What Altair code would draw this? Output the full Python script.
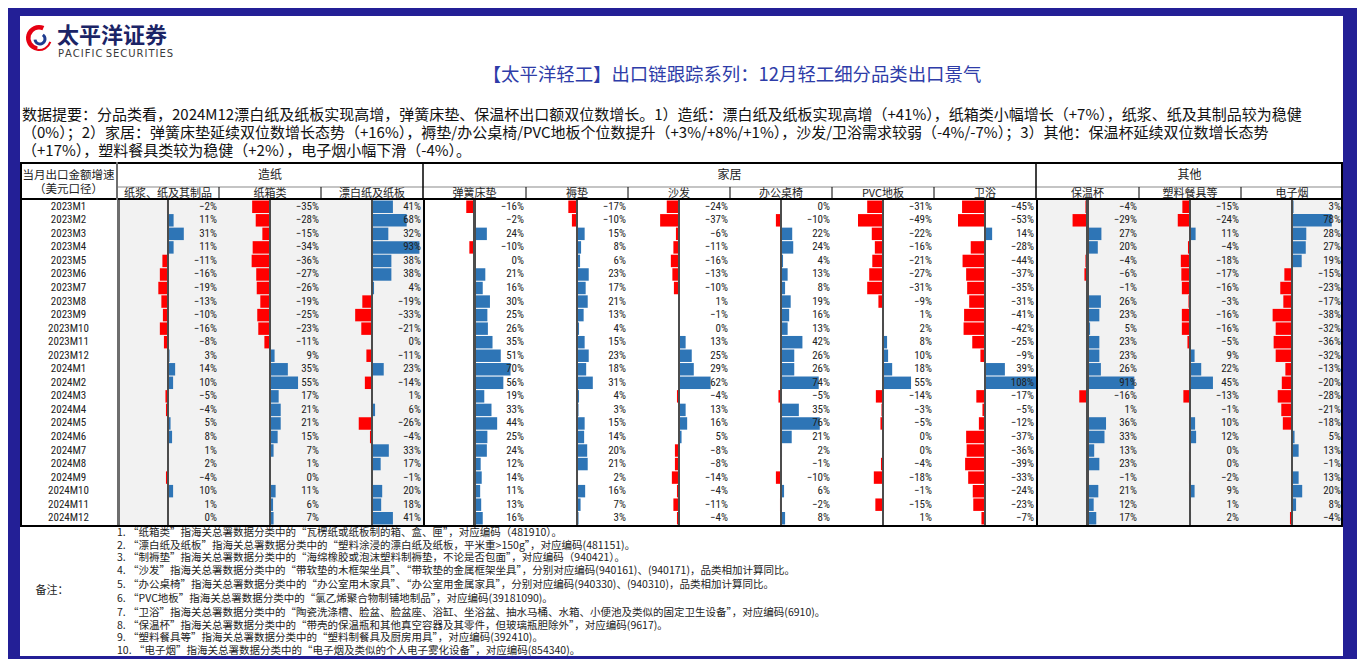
import altair as alt
import pandas as pd

# ---------------- data ----------------
months = ["2023M1", "2023M2", "2023M3", "2023M4", "2023M5", "2023M6",
          "2023M7", "2023M8", "2023M9", "2023M10", "2023M11", "2023M12",
          "2024M1", "2024M2", "2024M3", "2024M4", "2024M5", "2024M6",
          "2024M7", "2024M8", "2024M9", "2024M10", "2024M11", "2024M12"]

groups = ["造纸", "家居", "其他"]
subcols = ["纸浆、纸及其制品", "纸箱类", "漂白纸及纸板",
           "弹簧床垫", "褥垫", "沙发", "办公桌椅", "PVC地板", "卫浴",
           "保温杯", "塑料餐具等", "电子烟"]

pulp = [-2, 11, 31, 11, -11, -16, -19, -13, -10, -16, -8, 3, 14, 10, -5, -4, 5, 8, 1, 2, -4, 10, 1, 0]
carton = [-35, -28, -15, -34, -36, -27, -26, -19, -25, -23, -11, 9, 35, 55, 17, 21, 21, 15, 7, 1, 0, 11, 6, 7]
bleached = [41, 68, 32, 93, 38, 38, 4, -19, -33, -21, 0, -11, 23, -14, 1, 6, -26, -4, 33, 17, -1, 20, 18, 41]
mattress = [-16, -2, 24, -10, 0, 21, 16, 30, 25, 26, 35, 51, 70, 56, 19, 33, 44, 25, 24, 12, 14, 11, 13, 16]
pad = [-17, -10, 15, 8, 6, 23, 17, 21, 13, 4, 15, 23, 18, 31, 4, 3, 15, 14, 20, 21, 2, 16, 7, 3]
sofa = [-24, -37, -6, -11, -16, -13, -10, 1, -1, 0, 13, 25, 29, 62, -4, 13, 16, 5, -8, -8, -14, -4, -11, -4]
office = [0, -10, 22, 24, 4, 13, 8, 19, 16, 13, 42, 26, 26, 74, -5, 35, 76, 21, 2, -1, -10, 6, -2, 8]
pvc = [-31, -49, -22, -16, -21, -27, -31, -9, 1, 2, 8, 10, 18, 55, -14, -3, -5, 0, 0, -4, -18, -1, -15, 1]
bath = [-45, -53, 14, -28, -44, -37, -35, -31, -41, -42, -25, -9, 39, 108, -17, -5, -12, -37, -36, -39, -33, -24, -23, -7]
flask = [-4, -29, 27, 20, -4, -6, -1, 26, 23, 5, 23, 23, 26, 91, -16, 1, 36, 33, 13, 23, -1, 21, 12, 17]
tableware = [-15, -24, 11, -4, -18, -17, -16, -3, -16, -16, -5, 9, 22, 45, -13, -1, 10, 12, 0, 0, -2, 9, 1, 2]
ecig = [3, 78, 28, 27, 19, -15, -23, -17, -38, -32, -36, -32, -13, -20, -28, -21, -18, 5, 13, -1, 13, 20, 8, -4]

series = [pulp, carton, bleached, mattress, pad, sofa, office, pvc, bath, flask, tableware, ecig]

title_text = "【太平洋轻工】出口链跟踪系列：12月轻工细分品类出口景气"
summary_lines = [
    "数据提要：分品类看，2024M12漂白纸及纸板实现高增，弹簧床垫、保温杯出口额双位数增长。1）造纸：漂白纸及纸板实现高增（+41%），纸箱类小幅增长（+7%），纸浆、纸及其制品较为稳健",
    "（0%）；2）家居：弹簧床垫延续双位数增长态势（+16%），褥垫/办公桌椅/PVC地板个位数提升（+3%/+8%/+1%），沙发/卫浴需求较弱（-4%/-7%）；3）其他：保温杯延续双位数增长态势",
    "（+17%），塑料餐具类较为稳健（+2%），电子烟小幅下滑（-4%）。",
]
notes = [
    "1. “纸箱类”指海关总署数据分类中的“瓦楞纸或纸板制的箱、盒、匣”，对应编码（481910）。",
    "2. “漂白纸及纸板”指海关总署数据分类中的“塑料涂浸的漂白纸及纸板，平米重>150g”，对应编码(481151)。",
    "3. “制褥垫”指海关总署数据分类中的“海绵橡胶或泡沫塑料制褥垫，不论是否包面”，对应编码（940421）。",
    "4. “沙发”指海关总署数据分类中的“带软垫的木框架坐具”、“带软垫的金属框架坐具”，分别对应编码(940161)、(940171)，品类相加计算同比。",
    "5. “办公桌椅”指海关总署数据分类中的“办公室用木家具”、“办公室用金属家具”，分别对应编码(940330)、(940310)，品类相加计算同比。",
    "6. “PVC地板”指海关总署数据分类中的“氯乙烯聚合物制铺地制品”，对应编码(39181090)。",
    "7. “卫浴”指海关总署数据分类中的“陶瓷洗涤槽、脸盆、脸盆座、浴缸、坐浴盆、抽水马桶、水箱、小便池及类似的固定卫生设备”，对应编码(6910)。",
    "8. “保温杯”指海关总署数据分类中的“带壳的保温瓶和其他真空容器及其零件，但玻璃瓶胆除外”，对应编码(9617)。",
    "9. “塑料餐具等”指海关总署数据分类中的“塑料制餐具及厨房用具”，对应编码(392410)。",
    "10. “电子烟”指海关总署数据分类中的“电子烟及类似的个人电子雾化设备”，对应编码(854340)。",
]

# ---------------- style ----------------
FRAME = "#231f96"
BAR_BLUE = "#2e75b6"
BAR_RED = "#ff0000"
GREY_BG = "#f2f2f2"
FONT = "Noto Sans CJK SC"
NUMFONT = "Liberation Sans Narrow, Roboto Condensed, Noto Sans CJK SC"

LABEL_W = 97
COL_WS = [102, 102, 102, 103, 102, 102, 102, 102, 102, 103, 102, 102]
TOTAL_W = LABEL_W + sum(COL_WS)
TOP_H = 146
HEAD_H = 38
DATA_H = 325
NOTE_H = 131

one = alt.Data(values=[{}])


def txt(s, x, y, size, color="#111", align="left", weight="normal", font=FONT):
    return alt.Chart(one).mark_text(text=s, align=align, baseline="middle", fontSize=size,
                                    color=color, fontWeight=weight, font=font).encode(
        x=alt.value(x), y=alt.value(y))


def vline(x, y1, y2, color="#000", w=1.0):
    return alt.Chart(one).mark_rule(color=color, strokeWidth=w, clip=True).encode(
        x=alt.value(x), y=alt.value(y1), y2=alt.value(y2))


def hline(x1, x2, y, color="#000", w=1.0):
    return alt.Chart(one).mark_rule(color=color, strokeWidth=w, clip=True).encode(
        x=alt.value(x1), x2=alt.value(x2), y=alt.value(y))


white_view = alt.ViewBackground(fill="white", stroke="transparent")

# ---------------- top section ----------------
hs = "\u200a"
pacific = hs.join("PACIFIC") + "  " + hs.join("SECURITIES")
top_layers = [
    alt.Chart(one).mark_arc(color="#e60012", theta=3.3, theta2=6.7, radius=13, radius2=8.5).encode(
        x=alt.value(19), y=alt.value(22)),
    alt.Chart(one).mark_arc(color="#e60012", theta=1.9, theta2=3.3, radius=13, radius2=11).encode(
        x=alt.value(19), y=alt.value(22)),
    alt.Chart(one).mark_arc(color="#1f3b8f", theta=0.6, theta2=4.6, radius=6.5, radius2=3.5).encode(
        x=alt.value(20), y=alt.value(23)),
    txt("太平洋证券", 37, 20, 22, color="#1b2466", weight="bold"),
    txt(pacific, 38, 37.5, 10, color="#3a3a3a", font="DejaVu Sans"),
    txt(title_text, 712, 59, 18.4, color="#2e3ca8", align="center"),
]
for i, line in enumerate(summary_lines):
    top_layers.append(txt(line, 2, 99 + i * 18, 15, color="#111"))
top = alt.layer(*top_layers).properties(width=TOTAL_W, height=TOP_H, view=white_view)

# ---------------- header rows ----------------
bounds = [LABEL_W]
for w in COL_WS:
    bounds.append(bounds[-1] + w)
head_layers = [
    hline(0, TOTAL_W, 1, "#000", 2),
    hline(LABEL_W, TOTAL_W, 25, "#8a8a8a", 1.2),
    hline(0, TOTAL_W, 37, "#000", 2),
    vline(1, 0, HEAD_H, "#000", 2),
    vline(LABEL_W, 0, HEAD_H, "#6e6e6e", 2),
    vline(bounds[3], 0, HEAD_H, "#000", 1.5),
    vline(bounds[9], 0, HEAD_H, "#000", 1.5),
    vline(TOTAL_W - 1, 0, HEAD_H, "#000", 2),
]
for k in [1, 2, 4, 5, 6, 7, 8, 10, 11]:
    head_layers.append(vline(bounds[k], 25, HEAD_H, "#000", 1))
head_layers.append(txt("当月出口金额增速", LABEL_W / 2, 14, 11.5, color="#222", align="center"))
head_layers.append(txt("（美元口径）", LABEL_W / 2, 28, 11.5, color="#222", align="center"))
group_spans = [(0, 3), (3, 9), (9, 12)]
for g, (a, b) in zip(groups, group_spans):
    head_layers.append(txt(g, (bounds[a] + bounds[b]) / 2, 13, 12, color="#222", align="center"))
for k, name in enumerate(subcols):
    head_layers.append(txt(name, (bounds[k] + bounds[k + 1]) / 2, 32, 11, color="#222", align="center"))
header = alt.layer(*head_layers).properties(width=TOTAL_W, height=HEAD_H, view=white_view)

# ---------------- data table ----------------
xscale = alt.Scale(domain=[-1, 1], clamp=True, nice=False, zero=False)
yenc = alt.Y("month:N", sort=None, axis=None, scale=alt.Scale(paddingInner=0.08, paddingOuter=0.04))

label_df = pd.DataFrame({"month": months})
label_base = alt.Chart(label_df)
label_col = alt.layer(
    label_base.mark_text(fontSize=11, font=NUMFONT, color="#222", baseline="middle").encode(
        x=alt.XDatum(0, scale=xscale, axis=None), y=yenc, text="month:N"),
    label_base.mark_rule(color="#000", strokeWidth=4, clip=True).encode(
        x=alt.XDatum(-1, scale=xscale, axis=None)),
).properties(width=LABEL_W, height=DATA_H, view=white_view)

cols = []
for k, vals in enumerate(series):
    df = pd.DataFrame({"month": months, "v": [v / 100 for v in vals]})
    base = alt.Chart(df)
    fill = "white" if 3 <= k <= 8 else GREY_BG
    layers = [
        base.mark_bar(clip=True).encode(
            x=alt.X("v:Q", scale=xscale, axis=None),
            x2=alt.datum(0),
            y=yenc,
            color=alt.condition("datum.v >= 0", alt.value(BAR_BLUE), alt.value(BAR_RED)),
        ),
        base.mark_rule(color="#4d4d4d", strokeWidth=1.5, clip=True).encode(x=alt.datum(0)),
        base.mark_text(align="right", baseline="middle", dx=-2, fontSize=11, font=NUMFONT,
                       color="#222").encode(
            x=alt.datum(1), y=yenc, text=alt.Text("v:Q", format=".0%")),
    ]
    if k == 0:
        layers.append(base.mark_rule(color="#6e6e6e", strokeWidth=5, clip=True).encode(x=alt.datum(-1)))
    if k in (3, 9):
        layers.append(base.mark_rule(color="#000", strokeWidth=3, clip=True).encode(x=alt.datum(-1)))
    if k == 11:
        layers.append(base.mark_rule(color="#000", strokeWidth=4, clip=True).encode(x=alt.datum(1)))
    cols.append(alt.layer(*layers).properties(width=COL_WS[k], height=DATA_H,
                                              view=alt.ViewBackground(fill=fill, stroke="transparent")))

table = alt.hconcat(label_col, *cols, spacing=0, bounds="flush")

# ---------------- notes ----------------
note_ys = [8, 20.5, 33, 46, 60, 74, 87.5, 100.5, 113, 125.5]
note_layers = [hline(0, TOTAL_W, 1, "#000", 2), txt("备注：", 32, 66, 11, color="#222", align="center")]
for y, line in zip(note_ys, notes):
    note_layers.append(txt(line, LABEL_W, y, 10.5, color="#222"))
notes_chart = alt.layer(*note_layers).properties(width=TOTAL_W, height=NOTE_H, view=white_view)

chart = alt.vconcat(top, header, table, notes_chart, spacing=0).properties(
    background=FRAME,
    padding={"left": 12, "top": 8, "right": 14, "bottom": 3},
).configure_view(strokeWidth=0).configure_concat(spacing=0)

chart.save("out.html", embed_options={"renderer": "svg", "actions": False})
